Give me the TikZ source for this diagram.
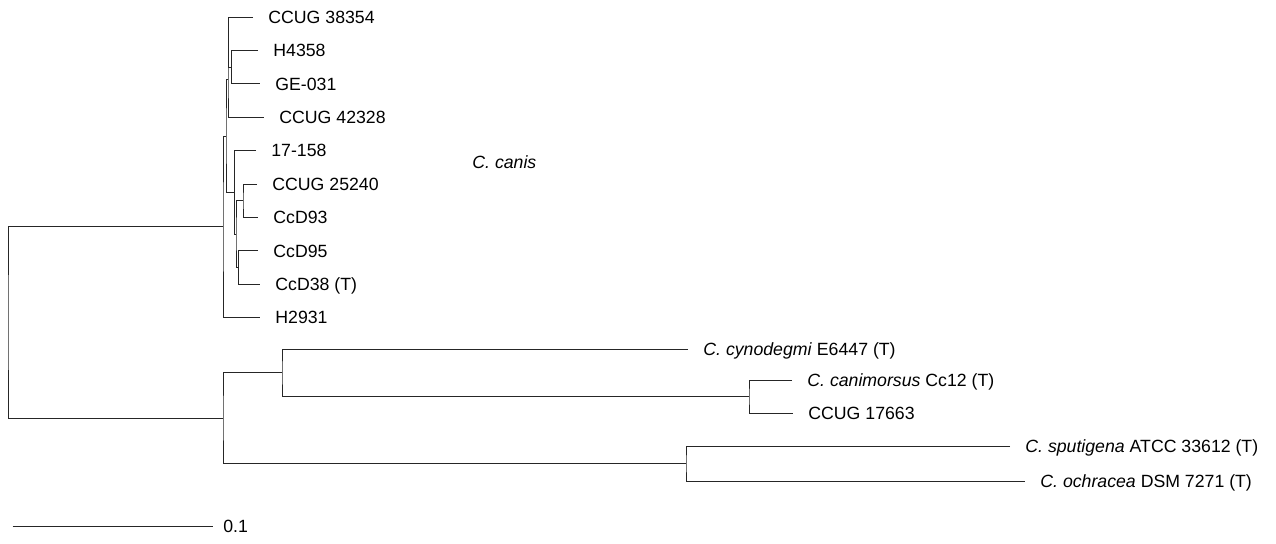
\documentclass[tikz,border=0pt]{standalone}
\usepackage{fontspec}
\setmainfont{Liberation Sans}
\tikzset{
  branch/.style={draw=black!85, line width=0.5pt},
  taxon/.style={anchor=west, inner xsep=7.5pt, inner ysep=0pt, text height=6.3pt, text depth=0pt},
}
\begin{document}
\begin{tikzpicture}[x=0.5pt,y=-0.5pt,font={\fontsize{8.85}{10}\selectfont}]
\useasboundingbox (0,0) rectangle (1276,543);

% inner nodes of the tree
\coordinate (root) at (8,322.5);
\coordinate (canis) at (223,226.8);
\coordinate (e) at (226,136);
\coordinate (a2) at (228,79.6);
\coordinate (a1) at (228.6,42.05);
\coordinate (hg) at (231.3,67.1);
\coordinate (b) at (234.5,192.35);
\coordinate (c) at (236,234.1);
\coordinate (d1) at (243,200.7);
\coordinate (d2) at (238.5,267.5);
\coordinate (low) at (223,418.1);
\coordinate (cy) at (282,372.75);
\coordinate (cc) at (749,396.5);
\coordinate (sp) at (686,463.5);

% taxa
\node[taxon] (t1) at (253,17) {CCUG 38354};
\node[taxon] (t2) at (258,50.4) {H4358};
\node[taxon] (t3) at (260,83.8) {GE-031};
\node[taxon] (t4) at (264,117.2) {CCUG 42328};
\node[taxon] (t5) at (256,150.6) {17-158};
\node[taxon] (t6) at (257,184) {CCUG 25240};
\node[taxon] (t7) at (258,217.4) {CcD93};
\node[taxon] (t8) at (258,250.8) {CcD95};
\node[taxon] (t9) at (260,284.2) {CcD38 (T)};
\node[taxon] (t10) at (260,317.6) {H2931};
\node[taxon] (cyno) at (688,349) {\textit{C. cynodegmi} E6447 (T)};
\node[taxon] (canim) at (792,380) {\textit{C. canimorsus} Cc12 (T)};
\node[taxon] (c17663) at (793,413) {CCUG 17663};
\node[taxon] (sput) at (1010,446) {\textit{C. sputigena} ATCC 33612 (T)};
\node[taxon] (ochr) at (1025,481) {\textit{C. ochracea} DSM 7271 (T)};

\node[anchor=west, inner sep=0pt] (canislabel) at (472,162) {\textit{C. canis}};

% branches
\draw[branch] (canis) -| (root) |- (low);
\draw[branch] (e) -| (canis) |- (t10.west);
\draw[branch] (a2) -| (e) |- (b);
\draw[branch] (a1) -| (a2) |- (t4.west);
\draw[branch] (t1.west) -| (a1) |- (hg);
\draw[branch] (t2.west) -| (hg) |- (t3.west);
\draw[branch] (t5.west) -| (b) |- (c);
\draw[branch] (d1) -| (c) |- (d2);
\draw[branch] (t6.west) -| (d1) |- (t7.west);
\draw[branch] (t8.west) -| (d2) |- (t9.west);
\draw[branch] (cy) -| (low) |- (sp);
\draw[branch] (cyno.west) -| (cy) |- (cc);
\draw[branch] (canim.west) -| (cc) |- (c17663.west);
\draw[branch] (sput.west) -| (sp) |- (ochr.west);

% scale bar
\coordinate (bar) at (12.7,526);
\node[taxon, inner xsep=5pt] (barlabel) at (213,526) {0.1};
\draw[branch] (bar) -- (barlabel.west);
\end{tikzpicture}
\end{document}
